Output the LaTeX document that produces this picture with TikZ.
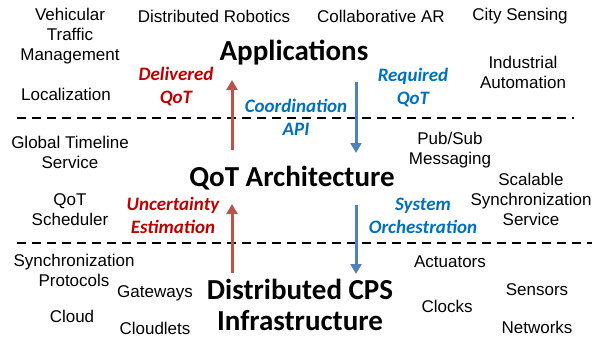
\documentclass[tikz,border=0pt]{standalone}
\usepackage{fontspec}
\setmainfont{Liberation Sans}
\newfontfamily\calibri{Carlito}
\usetikzlibrary{arrows.meta}
\definecolor{arrred}{RGB}{192,80,77}
\definecolor{arrblue}{RGB}{79,129,189}
\definecolor{txtred}{RGB}{192,0,0}
\definecolor{txtblue}{RGB}{0,112,192}
\tikzset{
  item/.style={align=center,inner sep=0pt,font=\fontsize{17}{20}\selectfont},
  layer/.style={align=center,inner sep=0pt,font=\calibri\bfseries\fontsize{29}{31}\selectfont},
  flow/.style={align=center,inner sep=0pt,font=\calibri\bfseries\itshape\fontsize{19}{23}\selectfont},
  upflow/.style={draw=arrred,line width=3pt,-{Triangle[length=10pt,width=11pt]}},
  downflow/.style={draw=arrblue,line width=3pt,-{Triangle[length=10pt,width=11pt]}},
  sep/.style={line width=2.8pt,dash pattern=on 9pt off 6pt}
}

\begin{document}
\begin{tikzpicture}[x=1pt,y=-1pt]
\useasboundingbox (0,0) rectangle (592,338);
% layers
\node[layer] (app) at (294,53) {Applications};
\node[layer] (arch) at (292,178) {QoT Architecture};
\node[layer] (infra) at (300,305) {Distributed CPS\\Infrastructure};
% applications
\node[item] (veh) at (70,36) {Vehicular\\Traffic\\Management};
\node[item] (rob) at (214,16) {Distributed Robotics};
\node[item] (car) at (381,16) {Collaborative AR};
\node[item] (city) at (520,16) {City Sensing};
\node[item] (ind) at (523,72) {Industrial\\Automation};
\node[item] (loc) at (66,94) {Localization};
% architecture
\node[item] (gts) at (70,152) {Global Timeline\\Service};
\node[item] (sched) at (70,210) {QoT\\Scheduler};
\node[item] (pubsub) at (450,150) {Pub/Sub\\Messaging};
\node[item] (sss) at (531,199) {Scalable\\Synchronization\\Service};
% infrastructure
\node[item] (sync) at (74,270) {Synchronization\\Protocols};
\node[item] (gw) at (155,293) {Gateways};
\node[item] (cloud) at (72,316) {Cloud};
\node[item] (cldl) at (155,328) {Cloudlets};
\node[item] (act) at (450,262) {Actuators};
\node[item] (sens) at (537,290) {Sensors};
\node[item] (clk) at (447,306) {Clocks};
\node[item] (net) at (537,327) {Networks};
% flow labels
\node[flow,txtred] (deliv) at (176,87) {Delivered\\QoT};
\node[flow,txtblue] (coord) at (296,117) {Coordination\\API};
\node[flow,txtblue] (req) at (413,88) {Required\\QoT};
\node[flow,txtred] (unc) at (173,215) {Uncertainty\\Estimation};
\node[flow,txtblue] (orch) at (423,216) {System\\Orchestration};
% separators
\coordinate (s1a) at (17,118);
\coordinate (s1b) at (574,118);
\coordinate (s2a) at (17,243);
\coordinate (s2b) at (592,243);
\draw[sep] (s1a) -- (s1b);
\draw[sep] (s2a) -- (s2b);
% arrows
\coordinate (r1a) at (232,150);
\coordinate (r1b) at (232,80);
\coordinate (b1a) at (356,82);
\coordinate (b1b) at (356,153);
\coordinate (r2a) at (232,273);
\coordinate (r2b) at (232,204);
\coordinate (b2a) at (356,205);
\coordinate (b2b) at (356,274);
\draw[upflow] (r1a) -- (r1b);
\draw[downflow] (b1a) -- (b1b);
\draw[upflow] (r2a) -- (r2b);
\draw[downflow] (b2a) -- (b2b);
\end{tikzpicture}
\end{document}
